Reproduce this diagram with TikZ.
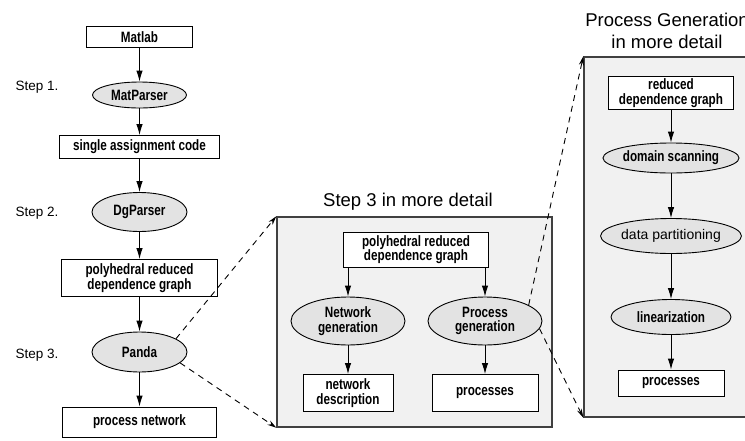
\documentclass[tikz,border=0pt]{standalone}
\usepackage{fontspec}
\setmainfont{Liberation Sans}
\newfontfamily\narrowfont[FakeStretch=0.78]{Liberation Sans}
\usetikzlibrary{shapes.geometric}
\usetikzlibrary{positioning}
\usetikzlibrary{arrows.meta}
\tikzset{x=1pt, y=-1pt,
box/.style={ % white boxes for the data
draw, line width=0.9pt, fill=white, align=center, inner sep=2pt,
font=\narrowfont\bfseries\fontsize{15}{14.5}\selectfont},
tool/.style={ % grey ellipses for the tools
ellipse, draw, line width=0.9pt, fill=gray!22, align=center, inner sep=0pt,
font=\narrowfont\bfseries\fontsize{15}{14.5}\selectfont},
panel/.style={ % the two detail panels
draw=black!75, line width=1.4pt, fill=gray!11},
steplabel/.style={anchor=west, font=\fontsize{13.5}{16}\selectfont},
title/.style={align=center, font=\fontsize{18.5}{22}\selectfont},
every edge/.style={ % solid arrows between the steps
draw, -{Latex[length=11pt,width=6.5pt]}, line width=0.9pt},
zoomline/.style={ % dashed lines to the panels
draw, dash pattern=on 6pt off 5pt, -{Stealth[length=9pt,width=5pt]}, line width=0.9pt}}

\begin{document}
\begin{tikzpicture}
\useasboundingbox (0,0) rectangle (745,440);
\clip (0,0) rectangle (745,440);
% panels and titles
\node[panel, minimum width=275pt, minimum height=210pt] (mid) at (414.5,322) {};
\node[panel, minimum width=180pt, minimum height=360pt] (rgt) at (674,237) {};
\node[title] (t3) at (408,202) {Step 3 in more detail};
\node[title] (tpg) at (667,31) {Process Generation\\in more detail};
% main flow
\node[box, minimum width=106pt, minimum height=21pt] (ml) at (139.5,37) {Matlab};
\node[tool, minimum width=94pt, minimum height=26pt] (mp) at (139.5,95) {MatParser};
\node[box, minimum width=160pt, minimum height=23pt] (sac) at (139.5,147) {single assignment code};
\node[tool, minimum width=95pt, minimum height=39pt] (dg) at (139.5,212) {DgParser};
\node[box, minimum width=156pt, minimum height=37pt] (prdg) at (139.5,278) {polyhedral reduced\\dependence graph};
\node[tool, minimum width=95pt, minimum height=40pt] (pa) at (139.5,352) {Panda};
\node[box, minimum width=154pt, minimum height=30pt] (pn) at (139.5,422) {process network};
\node[steplabel] (s1) at (12,87) {Step 1.};
\node[steplabel] (s2) at (12,213) {Step 2.};
\node[steplabel] (s3) at (12,355) {Step 3.};
% step 3
\node[box, minimum width=145pt, minimum height=35pt] (mrdg) at (416,249.5) {polyhedral reduced\\dependence graph};
\node[tool, minimum width=114pt, minimum height=48pt] (ng) at (348,321) {Network\\generation};
\node[tool, minimum width=114pt, minimum height=48pt] (pg) at (485,321) {Process\\generation};
\node[box, minimum width=90pt, minimum height=37pt] (nd) at (348,393) {network\\description};
\node[box, minimum width=106pt, minimum height=37pt] (pr) at (485,393) {processes};
% process generation
\node[box, minimum width=125pt, minimum height=30pt] (rdg) at (671,93) {reduced\\dependence graph};
\node[tool, minimum width=120pt, minimum height=30pt] (ds) at (671,158) {domain scanning};
\node[tool, minimum width=122pt, minimum height=35pt, font=\fontsize{14}{14}\selectfont] (dpart) at (671,236) {data partitioning};
\node[tool, minimum width=120pt, minimum height=35pt] (lin) at (671,317) {linearization};
\node[box, minimum width=106pt, minimum height=26pt] (prs) at (671,383) {processes};
\draw (ml) edge (mp) (mp) edge (sac) (sac) edge (dg) (dg) edge (prdg);
\draw (prdg) edge (pa) (pa) edge (pn);
\draw (mrdg.south -| ng) edge (ng) (mrdg.south -| pg) edge (pg);
\draw (ng) edge (nd) (pg) edge (pr);
\draw (rdg) edge (ds) (ds) edge (dpart) (dpart) edge (lin) (lin) edge (prs);
\draw[zoomline] (pa.20) -- (mid.north west);
\draw[zoomline] (pa.-15) -- (mid.south west);
\draw[zoomline] (pg.20) -- (rgt.north west);
\draw[zoomline] (pg.-8) -- (rgt.south west);
\end{tikzpicture}
\end{document}
